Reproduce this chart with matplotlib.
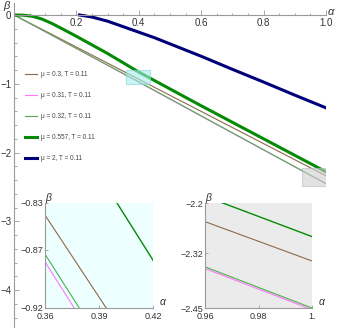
import numpy as np
import matplotlib.pyplot as plt
from matplotlib.patches import Rectangle
from matplotlib.ticker import MultipleLocator

plt.rcParams['font.family'] = ['Liberation Sans', 'DejaVu Sans']

# beta(alpha) curves
alpha_grid = [0.0, 0.1, 0.2, 0.3, 0.4, 0.5, 0.6, 0.7, 0.8, 0.9, 1.0]
beta_mu030 = [0, -0.232, -0.466, -0.700, -0.934, -1.168, -1.402, -1.636, -1.870, -2.104, -2.338]
beta_mu031 = [0, -0.244, -0.489, -0.734, -0.978, -1.225, -1.472, -1.718, -1.964, -2.209, -2.454]
beta_mu032 = [0, -0.242, -0.485, -0.728, -0.971, -1.218, -1.465, -1.712, -1.958, -2.205, -2.450]
alpha_mu0557 = [0.0, 0.03, 0.06, 0.09, 0.12, 0.15, 0.2, 0.3, 0.4, 0.5, 0.6, 0.7, 0.8, 0.9, 1.0]
beta_mu0557 = [0, -0.003, -0.02, -0.06, -0.12, -0.19, -0.31, -0.56, -0.83, -1.075, -1.32, -1.56, -1.80, -2.04, -2.28]
alpha_mu2 = [0.21, 0.25, 0.3, 0.35, 0.4, 0.45, 0.5, 0.6, 0.7, 0.8, 0.9, 1.0]
beta_mu2 = [0, -0.03, -0.09, -0.17, -0.25, -0.33, -0.42, -0.6, -0.79, -0.975, -1.165, -1.35]

labels = ['μ = 0.3, T = 0.11', 'μ = 0.31, T = 0.11', 'μ = 0.32, T = 0.11',
          'μ = 0.557, T = 0.11', 'μ = 2, T = 0.11']

# zoom windows (alpha min, alpha max, beta min, beta max)
zoom1 = [0.36, 0.42, -0.92, -0.83]
zoom2 = [0.96, 1.0, -2.45, -2.2]
zoom1_ticks_x = [0.36, 0.39, 0.42]
zoom1_ticks_y = [-0.83, -0.87, -0.92]
zoom2_ticks_x = [0.96, 0.98, 1.0]
zoom2_ticks_y = [-2.2, -2.32, -2.45]
# highlighted boxes in the main plot
box1 = [0.36, 0.435, -1.01, -0.80]
box2 = [0.923, 1.0, -2.48, -2.23]

c_brown = '#8c6a4c'
c_pink = '#ff77ff'
c_lgreen = '#4db04d'
c_green = '#068a06'
c_blue = '#00007a'
axcol = '#9a9a9a'
txtcol = '#333333'

W, H = 338, 328
fig = plt.figure(figsize=(W / 100, H / 100), dpi=100)

ax = fig.add_axes([14 / W, 0, 312 / W, 325.4 / H])
ax.plot(alpha_grid, beta_mu030, color=c_brown, lw=0.8, label=labels[0])
ax.plot(alpha_grid, beta_mu031, color=c_pink, lw=0.8, label=labels[1])
ax.plot(alpha_grid, beta_mu032, color=c_lgreen, lw=0.8, label=labels[2])
ax.plot(alpha_mu0557, beta_mu0557, color=c_green, lw=2.2, label=labels[3])
ax.plot(alpha_mu2, beta_mu2, color=c_blue, lw=2.2, label=labels[4])

ax.add_patch(Rectangle((box1[0], box1[2]), box1[1] - box1[0], box1[3] - box1[2],
                       facecolor='#a8ecec', edgecolor='#7fd6d6', alpha=0.6, lw=0.8, zorder=5))
ax.add_patch(Rectangle((box2[0], box2[2]), box2[1] - box2[0], box2[3] - box2[2],
                       facecolor='#d0d0d0', edgecolor='#bdbdbd', alpha=0.6, lw=0.8, zorder=5))

ax.set_xlim(0, 1.0)
ax.set_ylim(-4.55, 0.18)
ax.spines['top'].set_visible(False)
ax.spines['right'].set_visible(False)
ax.spines['bottom'].set_position(('data', 0))
for s in ['left', 'bottom']:
    ax.spines[s].set_color(axcol)
    ax.spines[s].set_linewidth(0.8)
ax.set_facecolor('none')
ax.set_xticks([0.2, 0.4, 0.6, 0.8, 1.0])
ax.set_xticklabels(['0.2', '0.4', '0.6', '0.8', '1.0'])
ax.set_yticks([0, -1, -2, -3, -4])
ax.set_yticklabels(['0', '−1', '−2', '−3', '−4'])
ax.xaxis.set_minor_locator(MultipleLocator(0.05))
ax.yaxis.set_minor_locator(MultipleLocator(0.2))
ax.tick_params(which='both', direction='in', color=axcol, width=0.6, labelcolor=txtcol,
               labelsize=7, pad=2)
ax.tick_params(which='major', length=3.5)
ax.tick_params(which='minor', length=1.8)
fig.text(3 / W, 1 - 1 / H, 'β', fontsize=8, style='italic', color=txtcol, ha='left', va='top')
fig.text(328 / W, 1 - 17 / H, 'α', fontsize=8, style='italic', color=txtcol, ha='left',
         va='bottom')

leg = ax.legend(loc='upper left', bbox_to_anchor=(0.035, 0.79), frameon=False,
                fontsize=4.7, labelspacing=2.15, handlelength=1.9, handletextpad=0.6,
                borderpad=0, borderaxespad=0)
for t in leg.get_texts():
    t.set_color('#444444')


def inset(rect, lims, xt, yt, xtl, face):
    a = fig.add_axes(rect)
    a.set_facecolor(face)
    a.plot(alpha_grid, beta_mu030, color=c_brown, lw=0.8)
    a.plot(alpha_grid, beta_mu031, color=c_pink, lw=0.8)
    a.plot(alpha_grid, beta_mu032, color=c_lgreen, lw=0.8)
    a.plot(alpha_mu0557, beta_mu0557, color=c_green, lw=1.0)
    a.plot(alpha_mu2, beta_mu2, color=c_blue, lw=1.0)
    a.set_xlim(lims[0], lims[1])
    a.set_ylim(lims[2], lims[3])
    a.spines['top'].set_visible(False)
    a.spines['right'].set_visible(False)
    for s in ['left', 'bottom']:
        a.spines[s].set_color(axcol)
        a.spines[s].set_linewidth(0.8)
    a.set_xticks(xt)
    a.set_xticklabels(xtl)
    a.set_yticks(yt)
    a.set_yticklabels([('%g' % v).replace('-', '−') for v in yt])
    a.tick_params(direction='in', color=axcol, width=0.6, length=2.5, labelcolor=txtcol,
                  labelsize=6.5)
    a.tick_params(axis='x', pad=3)
    a.tick_params(axis='y', pad=1.5)
    a.text(0.0, 1.0, 'β', fontsize=7.5, style='italic', color=txtcol, ha='left', va='bottom',
           transform=a.transAxes)
    a.text(1.06, 0.01, 'α', fontsize=7.5, style='italic', color=txtcol, ha='left', va='bottom',
           transform=a.transAxes)
    return a


inset([45 / W, 1 - 308 / H, 108 / W, 105 / H], zoom1, zoom1_ticks_x, zoom1_ticks_y,
      ['0.36', '0.39', '0.42'], '#edffff')
inset([205 / W, 1 - 308 / H, 107 / W, 105 / H], zoom2, zoom2_ticks_x, zoom2_ticks_y,
      ['0.96', '0.98', '1.'], '#ebebeb')

fig.savefig('out.png', dpi=100)
